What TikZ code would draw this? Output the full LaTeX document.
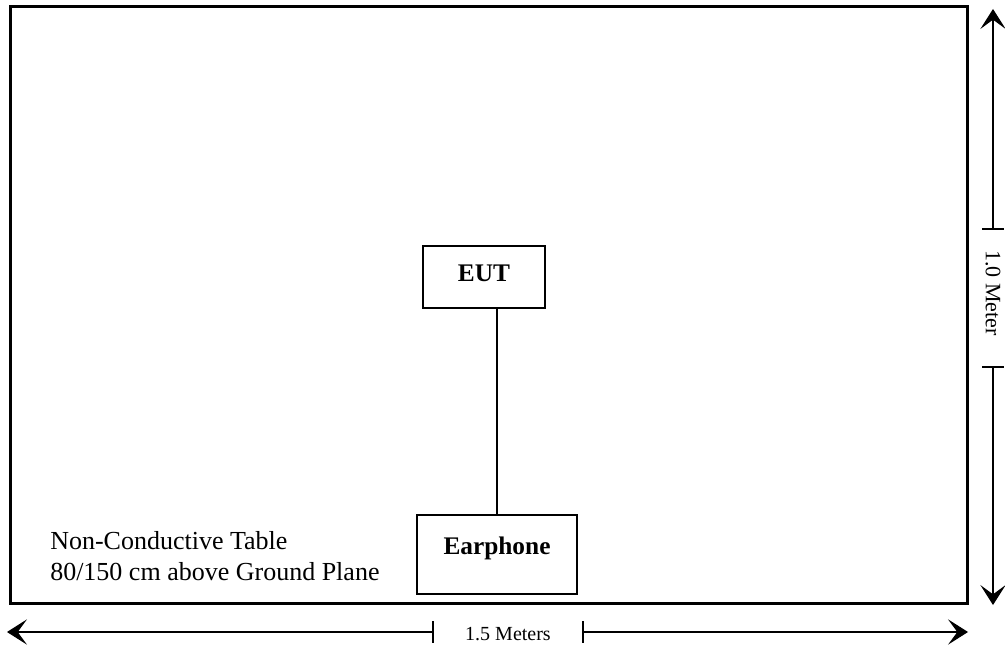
\documentclass[tikz,border=0pt]{standalone}
\usepackage{fontspec}
\setmainfont{Liberation Serif}
\usetikzlibrary{arrows.meta,positioning}

\begin{document}
\begin{tikzpicture}[
    x=0.75pt, y=-0.75pt,
    font=\fontsize{19.5}{23}\selectfont,
    tabletop/.style={draw=black, line width=2.25pt},
    unit/.style={draw=black, line width=1.1pt, inner sep=0pt,
                 font=\fontsize{19}{23}\selectfont\bfseries},
    cable/.style={line width=1.5pt},
    dimarr/.style={line width=0.8pt, -{Stealth[length=15pt,width=19pt,inset=7pt]}},
    dimtick/.style={line width=1pt},
    dimlabel/.style={font=\fontsize{15}{18}\selectfont, inner sep=0pt}
]
\useasboundingbox (0,0) rectangle (1005,652);

% -- table top
\draw[tabletop] (10,7) rectangle (967,603);

% -- units on the table
\node[unit, minimum width=91.5pt, minimum height=46.5pt, text depth=6pt] (eut) at (484,277) {EUT};
\node[unit, minimum width=120pt, minimum height=59pt, text depth=13pt] (earphone) at (497,554.5) {Earphone};

% -- cable
\draw[cable] (eut.south -| earphone) -- (earphone.north);

% -- table note
\node[anchor=west, align=left, inner sep=0pt] (note) at (50,556)
  {Non-Conductive Table\\80/150 cm above Ground Plane};

% -- depth: 1.0 Meter
\coordinate (vtop) at (993,9);
\coordinate (vbot) at (993,605);
\coordinate (vtickA) at (993,229);
\coordinate (vtickB) at (993,367);
\node[dimlabel, rotate=-90, font=\fontsize{16.5}{19}\selectfont] (vlabel) at (993,293) {1.0 Meter};
\draw[dimarr] (vtickA) -- (vtop);
\draw[dimarr] (vtickB) -- (vbot);
\draw[dimtick] ([xshift=-8pt]vtickA) -- ([xshift=8pt]vtickA);
\draw[dimtick] ([xshift=-8pt]vtickB) -- ([xshift=8pt]vtickB);

% -- width: 1.5 Meters
\coordinate (hleft) at (7,632);
\coordinate (hright) at (968,632);
\coordinate (htickA) at (433,632);
\coordinate (htickB) at (583,632);
\node[dimlabel] (hlabel) at (508,634) {1.5 Meters};
\draw[dimarr] (htickA) -- (hleft);
\draw[dimarr] (htickB) -- (hright);
\draw[dimtick] ([yshift=-8pt]htickA) -- ([yshift=8pt]htickA);
\draw[dimtick] ([yshift=-8pt]htickB) -- ([yshift=8pt]htickB);

\end{tikzpicture}
\end{document}
